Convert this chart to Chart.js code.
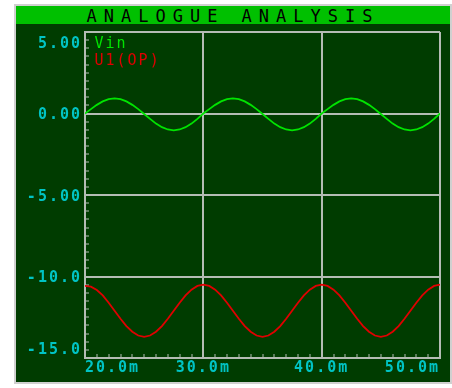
<!DOCTYPE html>
<html>
<head>
<meta charset="utf-8">
<script src="https://cdn.jsdelivr.net/npm/chart.js@4.4.1/dist/chart.umd.min.js"></script>
<style>
  body { margin: 0; background: #fff; }
  #panel {
    position: absolute; left: 14px; top: 4px;
    width: 438px; height: 380px;
    box-sizing: border-box;
    border: 2px solid #d0d0d0;
    background: #003c00;
  }
  #title {
    height: 18px; line-height: 20px;
    background: #00c000; color: #000;
    font: 17px "DejaVu Sans Mono", monospace;
    letter-spacing: 7px; padding-left: 0;
    text-align: center; overflow: hidden;
  }
  canvas { display: block; }
</style>
</head>
<body>
<div id="panel">
  <div id="title">ANALOGUE ANALYSIS</div>
  <canvas id="scope" width="434" height="358"></canvas>
</div>
<script>
// tiempo en ms, cada 0.5 ms
const times = [
  20, 20.5, 21, 21.5, 22, 22.5, 23, 23.5, 24, 24.5,
  25, 25.5, 26, 26.5, 27, 27.5, 28, 28.5, 29, 29.5,
  30, 30.5, 31, 31.5, 32, 32.5, 33, 33.5, 34, 34.5,
  35, 35.5, 36, 36.5, 37, 37.5, 38, 38.5, 39, 39.5,
  40, 40.5, 41, 41.5, 42, 42.5, 43, 43.5, 44, 44.5,
  45, 45.5, 46, 46.5, 47, 47.5, 48, 48.5, 49, 49.5, 50
];

const vin = [
  0.00, 0.27, 0.53, 0.74, 0.88, 0.93, 0.88, 0.74, 0.53, 0.27,
  -0.03, -0.33, -0.62, -0.84, -0.98, -1.03, -0.98, -0.84, -0.62, -0.33,
  0.00, 0.27, 0.53, 0.74, 0.88, 0.93, 0.88, 0.74, 0.53, 0.27,
  -0.03, -0.33, -0.62, -0.84, -0.98, -1.03, -0.98, -0.84, -0.62, -0.33,
  0.00, 0.27, 0.53, 0.74, 0.88, 0.93, 0.88, 0.74, 0.53, 0.27,
  -0.03, -0.33, -0.62, -0.84, -0.98, -1.03, -0.98, -0.84, -0.62, -0.33, 0.00
];

const u1op = [
  -10.58, -10.62, -10.83, -11.16, -11.61, -12.10, -12.59, -13.04, -13.39, -13.62,
  -13.70, -13.62, -13.39, -13.04, -12.59, -12.10, -11.61, -11.16, -10.81, -10.58,
  -10.50, -10.58, -10.81, -11.16, -11.61, -12.10, -12.59, -13.04, -13.39, -13.62,
  -13.70, -13.62, -13.39, -13.04, -12.59, -12.10, -11.61, -11.16, -10.81, -10.58,
  -10.50, -10.58, -10.81, -11.16, -11.61, -12.10, -12.59, -13.04, -13.39, -13.62,
  -13.70, -13.62, -13.39, -13.04, -12.59, -12.10, -11.61, -11.16, -10.81, -10.58, -10.50
];

const seriesNames = ["Vin", "U1(OP)"];
const seriesColors = ["#00e400", "#e00000"];

const yTickValues = [5, 0, -5, -10, -15];
const yTickLabels = ["5.00", "0.00", "-5.00", "-10.0", "-15.0"];
const xTickValues = [20, 30, 40, 50];
const xTickLabels = ["20.0m", "30.0m", "40.0m", "50.0m"];

const gridGray = "#b4bcb4";
const tickCyan = "#00c4c4";
const monoFont = "'DejaVu Sans Mono', monospace";

const toPoints = vals => vals.map((v, i) => ({ x: times[i], y: v }));

// espaciado de letras para todo el texto del canvas
const spacingPlugin = {
  id: "spacing",
  beforeDraw(chart) {
    chart.ctx.letterSpacing = "2px";
  }
};

// la leyenda vertical arranca en y=0; la bajamos al borde del área del gráfico
const legendPlacePlugin = {
  id: "legendPlace",
  afterLayout(chart) {
    const lg = chart.legend;
    const h = lg.bottom - lg.top;
    lg.top = chart.chartArea.top + 3;
    lg.bottom = lg.top + h;
  }
};

new Chart(document.getElementById("scope"), {
  type: "line",
  data: {
    datasets: [
      { label: seriesNames[0], data: toPoints(vin), borderColor: seriesColors[0], borderWidth: 1.8, pointRadius: 0, tension: 0 },
      { label: seriesNames[1], data: toPoints(u1op), borderColor: seriesColors[1], borderWidth: 1.8, pointRadius: 0, tension: 0 }
    ]
  },
  options: {
    responsive: false,
    animation: false,
    layout: { padding: { top: 8, right: 10, left: 0, bottom: 0 } },
    plugins: {
      tooltip: { enabled: false },
      legend: {
        position: "chartArea",
        align: "start",
        labels: {
          boxWidth: 0,
          boxHeight: 0,
          padding: 2,
          font: { family: monoFont, size: 15 },
          generateLabels: chart => Chart.defaults.plugins.legend.labels.generateLabels(chart).map(item => ({
            ...item,
            fontColor: seriesColors[item.datasetIndex],
            fillStyle: "transparent",
            strokeStyle: "transparent",
            lineWidth: 0
          }))
        }
      }
    },
    scales: {
      x: {
        type: "linear",
        min: 20,
        max: 50,
        afterFit: axis => {
          axis.height = 24;
          axis.paddingLeft = 0;
          axis.paddingRight = 0;
        },
        border: { color: gridGray, width: 2 },
        grid: {
          color: ctx => xTickValues.includes(ctx.tick.value) ? gridGray : "transparent",
          lineWidth: 2,
          tickColor: gridGray,
          tickWidth: 1,
          tickLength: -4
        },
        ticks: {
          stepSize: 1,
          maxTicksLimit: 100,
          autoSkip: false,
          maxRotation: 0,
          align: "inner",
          padding: 5,
          color: tickCyan,
          font: { family: monoFont, size: 15, weight: "bold" },
          callback: value => {
            const i = xTickValues.indexOf(value);
            return i >= 0 ? xTickLabels[i] : "";
          }
        }
      },
      y: {
        min: -15,
        max: 5,
        afterFit: axis => {
          axis.width = 69;
          axis.paddingTop = 0;
          axis.paddingBottom = 0;
        },
        border: { color: gridGray, width: 2 },
        grid: {
          color: ctx => yTickValues.includes(ctx.tick.value) ? gridGray : "transparent",
          lineWidth: 2,
          tickColor: gridGray,
          tickWidth: 1,
          tickLength: -4
        },
        ticks: {
          stepSize: 0.5,
          maxTicksLimit: 100,
          autoSkip: false,
          padding: 7,
          labelOffset: 2,
          color: tickCyan,
          font: { family: monoFont, size: 15, weight: "bold", lineHeight: 1.33 },
          callback: value => {
            const i = yTickValues.indexOf(value);
            if (i < 0) return "";
            // las etiquetas de los extremos quedan dentro del marco
            if (value === 5) return ["", yTickLabels[i]];
            if (value === -15) return [yTickLabels[i], ""];
            return yTickLabels[i];
          }
        }
      }
    }
  },
  plugins: [spacingPlugin, legendPlacePlugin]
});
</script>
</body>
</html>
